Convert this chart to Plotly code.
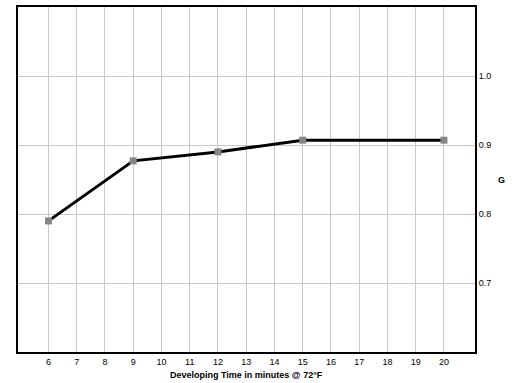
import plotly.graph_objects as go

dev_time = [6, 9, 12, 15, 20]
g_values = [0.79, 0.877, 0.89, 0.907, 0.907]
x_ticks = list(range(6, 21))
y_ticks = [0.7, 0.8, 0.9, 1.0]
y_tick_labels = ["0.7", "0.8", "0.9", "1.0"]

fig = go.Figure()
fig.add_trace(go.Scatter(
    x=dev_time, y=g_values, mode="lines+markers",
    line=dict(color="black", width=3),
    marker=dict(symbol="square", size=7, color="#858585",
                line=dict(color="#858585", width=0)),
    showlegend=False,
))

fig.add_annotation(
    text="<b>G</b>", xref="paper", yref="paper", x=1.057, y=0.5,
    showarrow=False, font=dict(size=9), xanchor="center", yanchor="middle",
)
fig.add_annotation(
    text="<b>Developing Time in minutes @ 72°F</b>", xref="paper", yref="paper",
    x=0.5, y=-0.068, showarrow=False, font=dict(size=9),
    xanchor="center", yanchor="middle",
)

fig.update_layout(
    width=525, height=383,
    margin=dict(l=18, r=50, t=7, b=31, autoexpand=False),
    paper_bgcolor="white", plot_bgcolor="white",
    font=dict(family="Liberation Sans, Arial, sans-serif", size=9, color="black"),
    xaxis=dict(
        range=[4.92, 21.1], tickvals=x_ticks, ticktext=[str(v) for v in x_ticks],
        showgrid=True, gridcolor="#c8c8c8", gridwidth=1,
        showline=True, linecolor="black", linewidth=2, mirror=True,
        ticks="", zeroline=False, automargin=False,
    ),
    yaxis=dict(
        range=[0.6, 1.1], side="right", tickvals=y_ticks, ticktext=y_tick_labels,
        showgrid=True, gridcolor="#c8c8c8", gridwidth=1,
        showline=True, linecolor="black", linewidth=2, mirror=True,
        ticks="", zeroline=False, automargin=False,
    ),
)

fig.write_html("out.html", config={"displayModeBar": False},
               post_script="document.body.style.margin='0';")
